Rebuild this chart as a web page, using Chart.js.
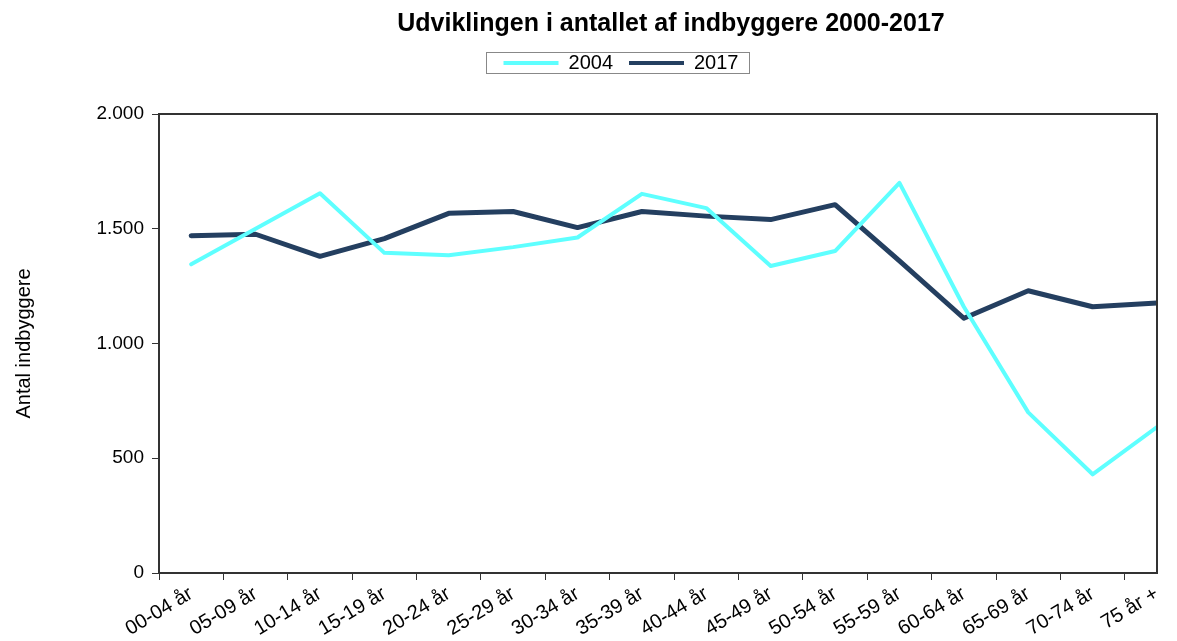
<!DOCTYPE html>
<html lang="da">
<head>
  <meta charset="UTF-8">
  <title>Udviklingen i antallet af indbyggere 2000-2017</title>
  <script src="https://cdn.jsdelivr.net/npm/chart.js"></script>
  <style>
    html, body { margin: 0; padding: 0; background: #fff; }
    #wrap { width: 1177px; height: 641px; }
  </style>
</head>
<body>
  <div id="wrap"><canvas id="popChart"></canvas></div>

  <script>
    const ageGroups = ['00-04 år', '05-09 år', '10-14 år', '15-19 år', '20-24 år', '25-29 år',
      '30-34 år', '35-39 år', '40-44 år', '45-49 år', '50-54 år', '55-59 år',
      '60-64 år', '65-69 år', '70-74 år', '75 år +'];
    const pop2004 = [1345, 1500, 1655, 1395, 1385, 1420, 1462, 1652, 1590, 1338, 1403, 1700,
      1160, 700, 430, 636];
    const pop2017 = [1470, 1476, 1380, 1457, 1567, 1575, 1505, 1575, 1555, 1540, 1605, 1360,
      1110, 1230, 1160, 1176];
    const yTicks = [0, 500, 1000, 1500, 2000];

    function dkNumber(v) {
      return String(v).replace(/\B(?=(\d{3})+(?!\d))/g, '.');
    }

    // legend gets a fixed height, title and legend are nudged sideways like the original
    const placement = {
      id: 'placement',
      beforeLayout(chart) {
        const lg = chart.legend;
        if (lg && !lg._fixedFit) {
          const fit = lg.fit;
          lg.fit = function () {
            fit.call(this);
            this.height = 77;
          };
          lg._fixedFit = true;
        }
      },
      afterLayout(chart) {
        if (chart.titleBlock) {
          chart.titleBlock.left = 185;
          chart.titleBlock.right = 1157;
        }
        if (chart.legend) {
          chart.legend.left = 85;
          chart.legend.right = 1157;
        }
      }
    };

    // frame round the plot area and the legend
    const frames = {
      id: 'frames',
      afterDraw(chart) {
        const ctx = chart.ctx;
        const a = chart.chartArea;
        ctx.save();
        ctx.strokeStyle = '#333';
        ctx.lineWidth = 2;
        ctx.strokeRect(a.left, a.top, a.right - a.left, a.bottom - a.top);
        const boxes = chart.legend.legendHitBoxes;
        if (boxes && boxes.length) {
          const l = Math.min(...boxes.map(b => b.left)) - 18;
          const r = Math.max(...boxes.map(b => b.left + b.width)) + 10;
          const cy = boxes[0].top + boxes[0].height / 2;
          ctx.strokeStyle = '#888';
          ctx.lineWidth = 1;
          ctx.strokeRect(Math.round(l) + 0.5, Math.round(cy - 11) + 0.5, Math.round(r - l), 21);
        }
        ctx.restore();
      }
    };

    const font = "'Liberation Sans', Arial, sans-serif";

    new Chart(document.getElementById('popChart'), {
      type: 'line',
      data: {
        datasets: [
          {
            label: '2004',
            data: pop2004.map((v, i) => ({ x: i, y: v })),
            borderColor: '#5EFFFF',
            backgroundColor: '#5EFFFF',
            borderWidth: 4,
            pointRadius: 0,
            borderJoinStyle: 'round',
            borderCapStyle: 'round',
            tension: 0
          },
          {
            label: '2017',
            data: pop2017.map((v, i) => ({ x: i, y: v })),
            borderColor: '#243F60',
            backgroundColor: '#243F60',
            borderWidth: 5,
            pointRadius: 0,
            borderJoinStyle: 'round',
            borderCapStyle: 'round',
            tension: 0
          }
        ]
      },
      options: {
        responsive: true,
        maintainAspectRatio: false,
        animation: false,
        layout: { padding: { left: 12, right: 20, top: 0, bottom: 0 } },
        plugins: {
          title: {
            display: true,
            text: 'Udviklingen i antallet af indbyggere 2000-2017',
            color: '#000',
            font: { family: font, size: 25, weight: 'bold', lineHeight: 1 },
            padding: { top: 12, bottom: 0 }
          },
          legend: {
            position: 'top',
            labels: {
              color: '#000',
              font: { family: font, size: 20 },
              boxWidth: 55,
              boxHeight: 4,
              padding: 16,
              generateLabels(chart) {
                return chart.data.datasets.map((ds, i) => ({
                  text: ds.label,
                  fillStyle: ds.borderColor,
                  strokeStyle: ds.borderColor,
                  lineWidth: 0,
                  datasetIndex: i
                }));
              }
            }
          },
          tooltip: { enabled: false }
        },
        scales: {
          x: {
            type: 'linear',
            min: -0.5,
            max: 15,
            afterFit(scale) { scale.height = 68; },
            afterBuildTicks(scale) {
              const t = [];
              for (let v = -0.5; v <= 15; v += 0.5) t.push({ value: v });
              scale.ticks = t;
            },
            border: { color: '#333', width: 2 },
            grid: {
              drawOnChartArea: false,
              tickLength: 7,
              lineWidth: 1,
              color: ctx => Number.isInteger(ctx.tick && ctx.tick.value) ? 'rgba(0,0,0,0)' : '#333'
            },
            ticks: {
              autoSkip: false,
              minRotation: 31,
              maxRotation: 31,
              padding: 2,
              color: '#000',
              font: { family: font, size: 20 },
              callback: v => Number.isInteger(v) ? ageGroups[v] : ''
            }
          },
          y: {
            min: 0,
            max: 2000,
            afterFit(scale) { scale.width = 147; },
            afterBuildTicks(scale) {
              scale.ticks = yTicks.map(v => ({ value: v }));
            },
            border: { color: '#333', width: 2 },
            grid: { drawOnChartArea: false, tickLength: 7, color: '#333' },
            ticks: {
              color: '#000',
              padding: 8,
              font: { family: font, size: 19 },
              callback: v => dkNumber(v)
            },
            title: {
              display: true,
              text: 'Antal indbyggere',
              color: '#000',
              font: { family: font, size: 20 },
              padding: { top: 0, bottom: 0 }
            }
          }
        }
      },
      plugins: [placement, frames]
    });
  </script>
</body>
</html>
